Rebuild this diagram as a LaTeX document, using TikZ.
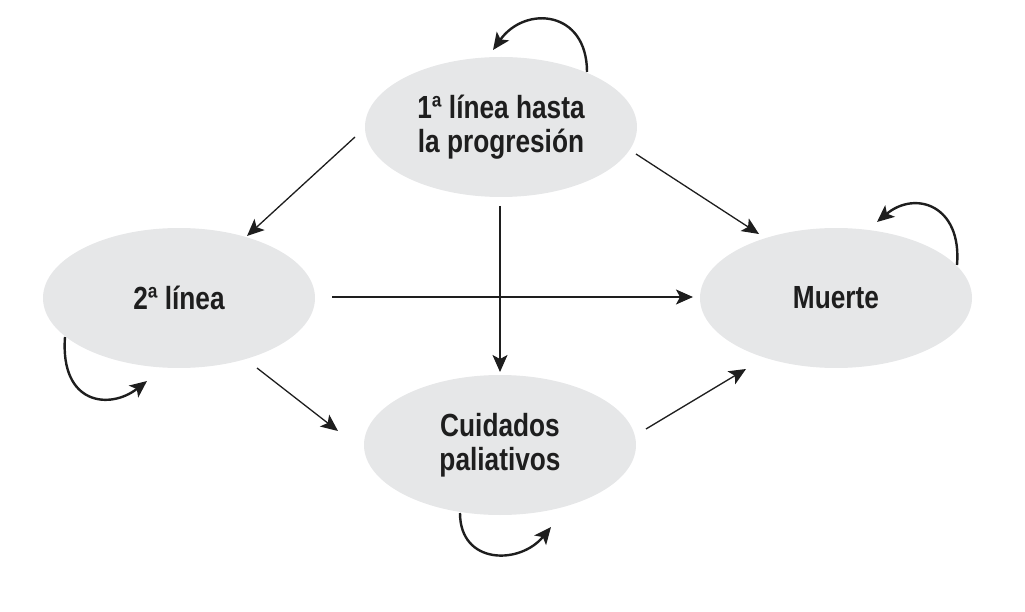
\documentclass[tikz,border=0pt]{standalone}
\usepackage{fontspec}
\setmainfont{Liberation Sans}[FakeStretch=0.82]
\usetikzlibrary{arrows.meta,calc,shapes.geometric}
\definecolor{ellfill}{RGB}{230,231,232}
\definecolor{ink}{RGB}{30,30,30}
\begin{document}
\begin{tikzpicture}[x=1pt,y=-1pt,
  state/.style={ellipse,fill=ellfill,draw=none,minimum width=272pt,minimum height=140pt,inner sep=0pt,
     align=center,text=ink,font=\bfseries\fontsize{32}{34}\selectfont},
  arr/.style={draw=ink,line width=1.3pt,-{Stealth[length=17pt,width=15pt,inset=4pt]}},
  selfloop/.style={draw=ink,line width=2.4pt,-{Stealth[length=17pt,width=15pt,inset=4pt]}}]
\useasboundingbox (0,0) rectangle (1025,612);
\node[state] (top) at (501,127) {1ª línea hasta\\la progresión};
\node[state] (left) at (179,298) {2ª línea};
\node[state] (right) at (836,298) {Muerte};
\node[state] (bot) at (500,445) {Cuidados\\paliativos};
% transitions
\draw[arr] ($(top)+(-146,10)$) -- ($(left)+(68,-62)$);
\draw[arr] ($(top)+(135,27)$) -- ($(right)+(-77,-64)$);
\draw[arr] ($(top)+(-1,79)$) -- ($(bot)+(0,-73)$);
\draw[arr] ($(left)+(153,-1)$) -- ($(right)+(-143,-1)$);
\draw[arr] ($(left)+(78,70)$) -- ($(bot)+(-162,-14)$);
\draw[arr] ($(bot)+(146,-16)$) -- ($(right)+(-90,71)$);
% self loops
\draw[selfloop] ($(top)+(86,-55)$) .. controls ($(top)+(86,-117)$) and ($(top)+(24,-122)$) .. ($(top)+(-8,-77)$);
\draw[selfloop] ($(right)+(121,-33)$) .. controls ($(right)+(126,-93)$) and ($(right)+(79,-108)$) .. ($(right)+(41,-76)$);
\draw[selfloop] ($(left)+(-114,39)$) .. controls ($(left)+(-119,107)$) and ($(left)+(-69,112)$) .. ($(left)+(-32,83)$);
\draw[selfloop] ($(bot)+(-40,68)$) .. controls ($(bot)+(-40,120)$) and ($(bot)+(20,120)$) .. ($(bot)+(51,82)$);
\end{tikzpicture}
\end{document}
